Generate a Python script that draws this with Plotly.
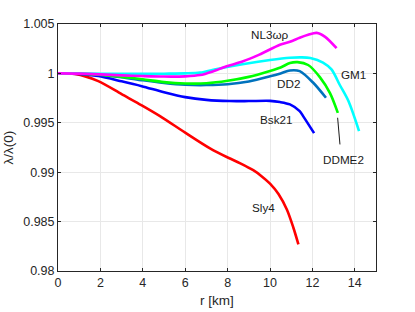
import plotly.graph_objects as go

# Data
sly4_r = [0, 0.8, 1.9, 3.0, 3.95, 4.81, 6.0, 7.17, 8.03, 8.6, 9.21, 9.6, 10.0, 10.4, 10.8, 11.1, 11.34]
sly4_v = [1.0, 0.99995, 0.99922, 0.9979, 0.99677, 0.99568, 0.994, 0.99241, 0.99146, 0.9909, 0.9902, 0.9896, 0.98885, 0.9878, 0.9862, 0.9844, 0.98269]

bsk21_r = [0, 1, 1.9, 3, 3.95, 5, 6, 7, 8.1, 9, 10, 10.47, 10.94, 11.4, 11.57, 12.08]
bsk21_v = [1.0, 0.99995, 0.99973, 0.9992, 0.99871, 0.9981, 0.9976, 0.99732, 0.9972, 0.9972, 0.99722, 0.9971, 0.99686, 0.99618, 0.99565, 0.99395]

dd2_r = [0, 1, 2, 3, 4, 5, 6, 7, 8, 9, 10, 10.5, 10.94, 11.4, 12.04, 12.64]
dd2_v = [1.0, 0.99997, 0.99985, 0.99962, 0.9993, 0.99903, 0.99885, 0.99882, 0.9989, 0.99918, 0.9997, 1.0, 1.0003, 1.00023, 0.99905, 0.99753]

ddme2_r = [0, 1, 2, 3, 4, 5, 6, 7, 8, 9, 10, 10.5, 10.94, 11.3, 11.8, 12.36, 12.83, 13.2]
ddme2_v = [1.0, 0.99997, 0.99987, 0.99965, 0.9994, 0.99912, 0.99898, 0.999, 0.99925, 0.99965, 1.00025, 1.0006, 1.00105, 1.00114, 1.00085, 0.9996, 0.9980, 0.99601]

gm1_r = [0, 1, 2, 3, 4, 5, 6, 6.7, 7.5, 8.7, 10, 10.94, 11.5, 11.9, 12.5, 12.9, 13.3, 13.7, 14.2]
gm1_v = [1.0, 0.99999, 0.99997, 0.99995, 0.99995, 0.99997, 1.0, 1.00008, 1.00045, 1.00093, 1.00135, 1.00158, 1.00162, 1.00155, 1.0011, 1.0004, 0.9988, 0.9972, 0.99416]

nl3_r = [0, 1, 2, 3, 4, 5, 6, 6.7, 7.3, 7.95, 8.7, 9.5, 10.47, 10.94, 11.4, 11.8, 12.2, 12.6, 13.14]
nl3_v = [1.0, 0.99998, 0.9999, 0.9998, 0.99973, 0.99968, 0.9997, 0.99983, 1.0002, 1.00072, 1.0012, 1.0019, 1.0029, 1.0032, 1.0036, 1.0039, 1.0041, 1.0037, 1.00255]

series = [
    ("Sly4", sly4_r, sly4_v, "#FF0000"),
    ("Bsk21", bsk21_r, bsk21_v, "#0000FF"),
    ("DD2", dd2_r, dd2_v, "#0072BD"),
    ("DDME2", ddme2_r, ddme2_v, "#00FF00"),
    ("GM1", gm1_r, gm1_v, "#00FFFF"),
    ("NL3ωρ", nl3_r, nl3_v, "#FF00FF"),
]

# label positions (data coords)
labels = [
    ("NL3ωρ", 10.0, 1.00398),
    ("GM1", 13.96, 0.99993),
    ("DD2", 10.87, 0.99902),
    ("Bsk21", 10.28, 0.99537),
    ("Sly4", 9.69, 0.98647),
    ("DDME2", 13.49, 0.99133),
]

x_ticks = [0, 2, 4, 6, 8, 10, 12, 14]
y_ticks = [0.98, 0.985, 0.99, 0.995, 1.0, 1.005]
y_tick_text = ["0.98", "0.985", "0.99", "0.995", "1", "1.005"]

fig = go.Figure()
for name, r, v, c in series:
    fig.add_trace(go.Scatter(x=r, y=v, mode="lines", name=name,
                             line=dict(color=c, width=2.6, shape="spline", smoothing=0.8)))

for text, x, y in labels:
    fig.add_annotation(x=x, y=y, text=text, showarrow=False,
                       font=dict(size=11.7, color="#1a1a1a"))

# pointer line for DDME2
fig.add_shape(type="line", x0=13.19, y0=0.99551, x1=13.30, y1=0.99281,
              line=dict(color="#1a1a1a", width=1))

# axis titles
fig.add_annotation(xref="paper", yref="paper", x=(8 - 58) / 318, y=0.5, text="λ/λ(0)",
                   textangle=-90, showarrow=False, xanchor="center", yanchor="middle",
                   font=dict(size=13.5, color="#262626"))
fig.add_annotation(xref="paper", yref="paper", x=0.5, y=-(300 - 271) / 247, text="r [km]",
                   showarrow=False, xanchor="center", yanchor="middle",
                   font=dict(size=13.5, color="#262626"))

axis_common = dict(showline=True, linecolor="#262626", linewidth=1, mirror="ticks",
                   ticks="inside", ticklen=3, tickcolor="#262626", automargin=False,
                   showgrid=True, gridcolor="#e8e8e8", gridwidth=1, zeroline=False,
                   tickfont=dict(size=12.5, color="#262626"))

fig.update_xaxes(range=[0, 15], tickvals=x_ticks, **axis_common)
fig.update_yaxes(range=[0.98, 1.005], tickvals=y_ticks, ticktext=y_tick_text, **axis_common)

fig.update_layout(width=415, height=312, margin=dict(l=58, r=39, t=24, b=41, autoexpand=False),
                  plot_bgcolor="white", paper_bgcolor="white", showlegend=False,
                  font=dict(family="Liberation Sans, Arial, sans-serif"))

fig.write_html("out.html", config={"displayModeBar": False},
               post_script="document.body.style.margin='0';document.body.style.overflow='hidden';")
